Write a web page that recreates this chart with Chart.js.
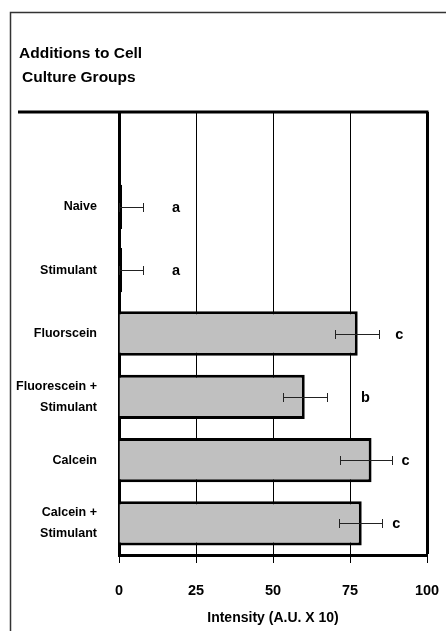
<!DOCTYPE html>
<html>
<head>
<meta charset="utf-8">
<script src="https://cdn.jsdelivr.net/npm/chart.js@4.4.0/dist/chart.umd.min.js"></script>
<style>
  html, body { margin: 0; padding: 0; background: #fff; }
  #wrap { width: 446px; height: 631px; }
</style>
</head>
<body>
<div id="wrap"><canvas id="chart"></canvas></div>
<script>
// values (intensity, A.U. x 10)
const categories = ['', 'Naive', 'Stimulant', 'Fluorscein', ['Fluorescein +', 'Stimulant'], 'Calcein', ['Calcein +', 'Stimulant']];
const intensity = [null, 1, 1, 77.5, 60.3, 82, 78.8];
const errLow = [null, 0, 0, 70.1, 53.1, 71.8, 71.5];
const errHigh = [null, 7.9, 7.9, 84.4, 67.4, 88.7, 85.5];
const groupLetters = ['', 'a', 'a', 'c', 'b', 'c', 'c'];
const letterAt = [null, 18.5, 18.5, 91, 80, 93, 90];
const xTicks = [0, 25, 50, 75, 100];
const titleLines = ['Additions to Cell', 'Culture Groups'];
const xTitle = 'Intensity (A.U. X 10)';

const FONT = "'Liberation Sans', Arial, sans-serif";

// frame, title, error bars and group letters
const decor = {
  id: 'decor',
  beforeDraw(chart) {
    const { ctx, width, height } = chart;
    ctx.save();
    ctx.fillStyle = '#fff';
    ctx.fillRect(0, 0, width, height);
    ctx.strokeStyle = '#333';
    ctx.lineWidth = 1.5;
    ctx.beginPath();
    ctx.moveTo(10.5, height);
    ctx.lineTo(10.5, 12.5);
    ctx.lineTo(width, 12.5);
    ctx.stroke();
    ctx.fillStyle = '#000';
    ctx.font = `bold 15.5px ${FONT}`;
    ctx.textBaseline = 'middle';
    ctx.fillText(titleLines[0], 19, 54);
    ctx.fillText(titleLines[1], 22, 78);
    ctx.restore();
  },
  afterDatasetsDraw(chart) {
    const { ctx, chartArea } = chart;
    const xs = chart.scales.x;
    const bars = chart.getDatasetMeta(0).data;
    ctx.save();
    ctx.strokeStyle = '#222';
    ctx.lineWidth = 1;
    bars.forEach((bar, i) => {
      if (intensity[i] == null) return;
      const y = Math.round(bar.y) + 0.5;
      const x1 = Math.round(xs.getPixelForValue(errLow[i])) + 0.5;
      const x2 = Math.round(xs.getPixelForValue(errHigh[i])) + 0.5;
      ctx.beginPath();
      ctx.moveTo(x1, y); ctx.lineTo(x2, y);
      ctx.moveTo(x1, y - 4.5); ctx.lineTo(x1, y + 4.5);
      ctx.moveTo(x2, y - 4.5); ctx.lineTo(x2, y + 4.5);
      ctx.stroke();
    });
    ctx.fillStyle = '#000';
    ctx.font = `bold 14.5px ${FONT}`;
    ctx.textAlign = 'center';
    ctx.textBaseline = 'middle';
    bars.forEach((bar, i) => {
      if (!groupLetters[i]) return;
      ctx.fillText(groupLetters[i], xs.getPixelForValue(letterAt[i]), bar.y + 1);
    });
    // heavy top border running over the label column
    ctx.strokeStyle = '#000';
    ctx.lineWidth = 3;
    ctx.beginPath();
    ctx.moveTo(18, chartArea.top);
    ctx.lineTo(chartArea.right + 1.5, chartArea.top);
    ctx.stroke();
    ctx.restore();
  }
};

new Chart(document.getElementById('chart'), {
  type: 'bar',
  data: {
    labels: categories,
    datasets: [{
      data: intensity,
      backgroundColor: c => (c.raw != null && c.raw < 5 ? '#000' : '#c0c0c0'),
      borderColor: '#000',
      borderWidth: 3,
      barPercentage: 0.7,
      categoryPercentage: 1
    }]
  },
  options: {
    indexAxis: 'y',
    responsive: true,
    maintainAspectRatio: false,
    animation: false,
    layout: { padding: { top: 112, right: 19, bottom: 0, left: 0 } },
    plugins: {
      legend: { display: false },
      tooltip: { enabled: false }
    },
    scales: {
      x: {
        min: 0,
        max: 100,
        afterBuildTicks: s => { s.ticks = xTicks.map(v => ({ value: v })); },
        afterFit: s => { s.height = 76; s.paddingLeft = 0; s.paddingRight = 0; },
        grid: {
          color: '#000',
          lineWidth: c => (c.tick && c.tick.value === 100 ? 3 : 1),
          tickColor: '#000',
          tickWidth: 1,
          tickLength: 8
        },
        border: { display: true, color: '#000', width: 3 },
        ticks: {
          color: '#000',
          font: { family: FONT, size: 14.5, weight: 'bold' },
          padding: 19,
          maxRotation: 0
        },
        title: {
          display: true,
          text: xTitle,
          color: '#000',
          font: { family: FONT, size: 14, weight: 'bold' },
          padding: { top: 0, bottom: 4 }
        }
      },
      y: {
        afterFit: s => { s.width = 119; },
        grid: { display: false },
        border: { display: true, color: '#000', width: 3 },
        ticks: {
          color: '#000',
          font: { family: FONT, size: 12.5, weight: 'bold', lineHeight: 1.65 },
          padding: 14
        }
      }
    }
  },
  plugins: [decor]
});
</script>
</body>
</html>
